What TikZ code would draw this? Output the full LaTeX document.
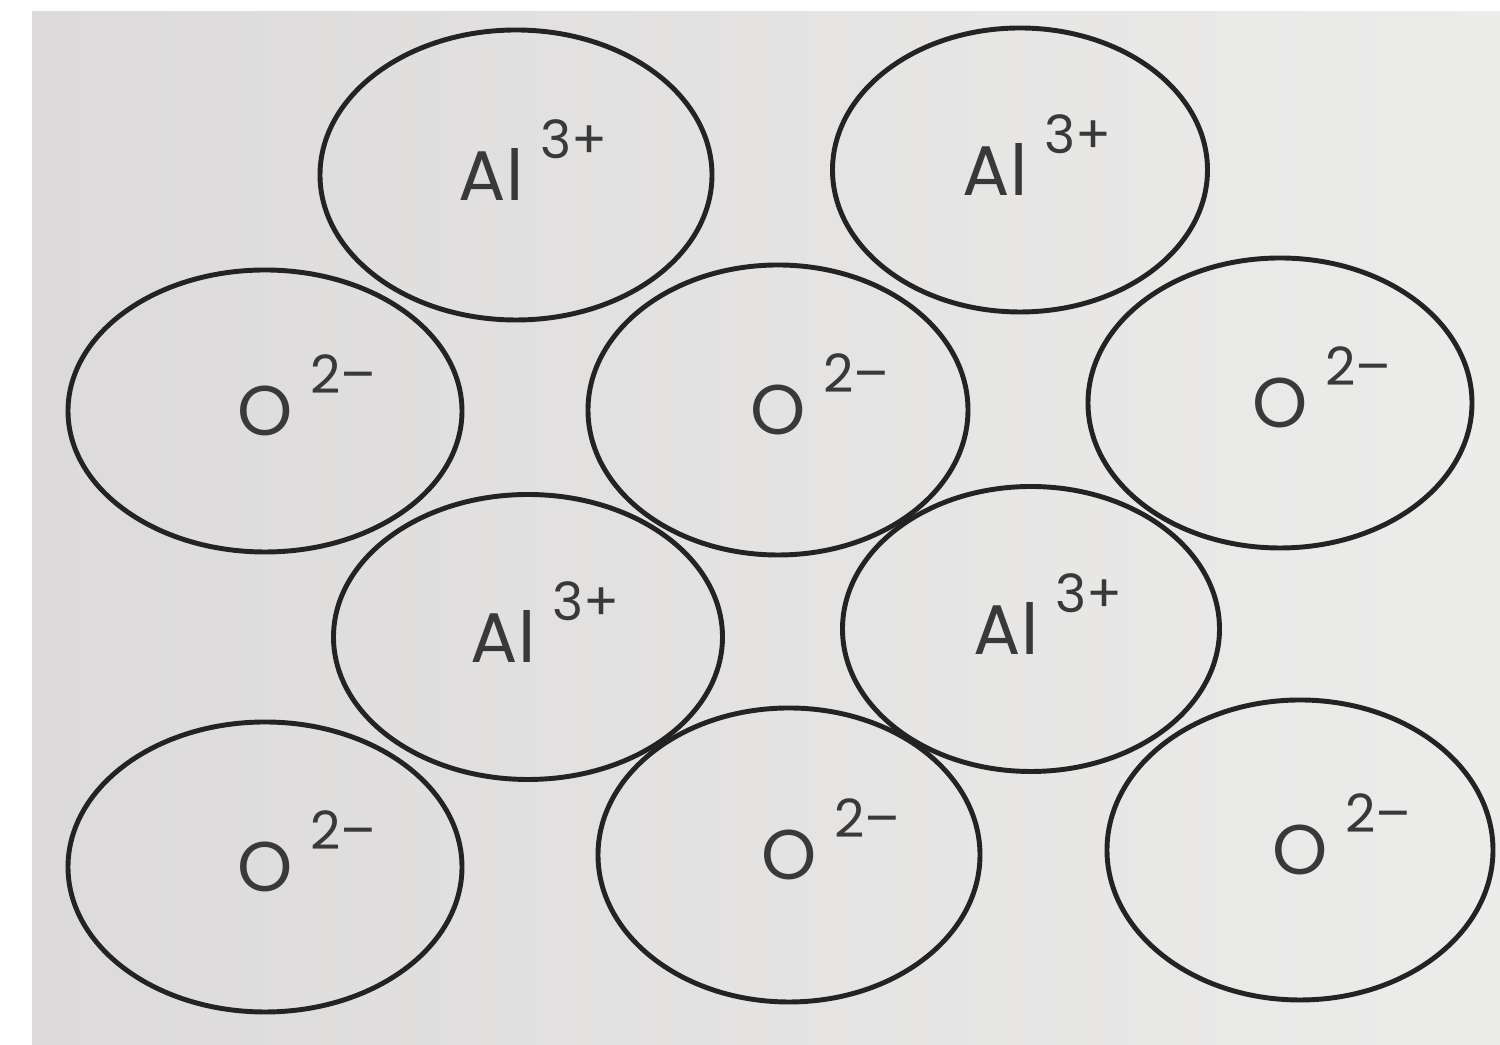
\documentclass[tikz,border=0pt]{standalone}
\usepackage{fontspec}
\setmainfont{Poppins}
\usetikzlibrary{shapes.geometric, positioning}
\definecolor{paperleft}{RGB}{220, 218, 218}
\definecolor{paperright}{RGB}{236, 236, 235}
\definecolor{inkline}{RGB}{35, 35, 35}
\newcommand{\ionlbl}[3][0pt]{\hspace*{#1}#2\rlap{\hspace{0.25em}\smash{\raisebox{0.6em}{\fontsize{15}{15}\selectfont #3}}}}
\tikzset{
  ion/.style={ellipse, draw=inkline, line width=1.4pt, inner sep=0pt,
              minimum width=#1, minimum height=2.9cm,
              font=\fontsize{20}{24}\selectfont, text=inkline!90},
  ion/.default=3.85cm,
}

\begin{document}
\begin{tikzpicture}
  \useasboundingbox (0,0) rectangle (15,10.45);
  \shade[left color=paperleft, right color=paperright] (0.32,0) rectangle (15,10.33);

  % aluminium ions
  \node[ion=3.92cm] (al1) at (5.16,8.70) {\ionlbl[-0.5cm]{Al}{3+}};
  \node[ion=3.75cm, minimum height=2.84cm] (al2) at (10.20,8.75) {\ionlbl[-0.5cm]{Al}{3+}};
  \node[ion=3.89cm, minimum height=2.85cm] (al3) at (5.28,4.08) {\ionlbl[-0.5cm]{Al}{3+}};
  \node[ion=3.77cm, minimum height=2.85cm] (al4) at (10.31,4.16) {\ionlbl[-0.5cm]{Al}{3+}};

  % oxide ions
  \node[ion=3.94cm, minimum height=2.82cm] (o1) at (2.65,6.34) {\ionlbl{O}{2–}};
  \node[ion=3.80cm] (o2) at (7.78,6.35) {\ionlbl{O}{2–}};
  \node[ion=3.84cm] (o3) at (12.80,6.42) {\ionlbl{O}{2–}};
  \node[ion=3.94cm] (o4) at (2.65,1.78) {\ionlbl{O}{2–}};
  \node[ion=3.82cm, minimum height=2.94cm] (o5) at (7.89,1.90) {\ionlbl{O}{2–}};
  \node[ion=3.86cm, minimum height=3.0cm] (o6) at (13.0,1.95) {\ionlbl{O}{2–}};
\end{tikzpicture}
\end{document}
